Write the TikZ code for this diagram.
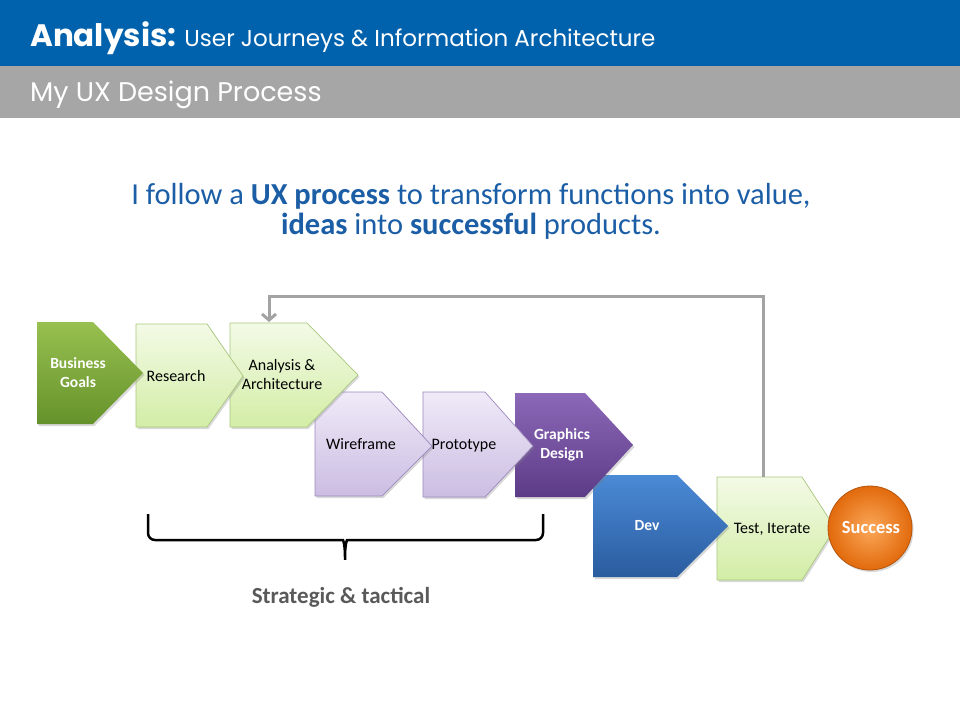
\documentclass[tikz,border=0pt]{standalone}
\usepackage{fontspec}
\setmainfont{Carlito}
\newfontfamily\headfont{Poppins}
\usetikzlibrary{arrows.meta,shadows}

\definecolor{headblue}{HTML}{0062AC}
\definecolor{headgray}{HTML}{A6A6A6}
\definecolor{introblue}{HTML}{1B5EA6}
\definecolor{lgtop}{HTML}{F3FAE6}
\definecolor{lgbot}{HTML}{D3EDA6}
\definecolor{lgline}{HTML}{A9C77E}
\definecolor{dgtop}{HTML}{98C050}
\definecolor{dgbot}{HTML}{65922B}
\definecolor{lvtop}{HTML}{F0EAF8}
\definecolor{lvbot}{HTML}{CBBDE2}
\definecolor{lvline}{HTML}{9C88BD}
\definecolor{pptop}{HTML}{8C69B8}
\definecolor{ppbot}{HTML}{5C3B87}
\definecolor{dvtop}{HTML}{4B8AD6}
\definecolor{dvbot}{HTML}{2A5C9F}
\definecolor{ortop}{HTML}{FBA85A}
\definecolor{orbot}{HTML}{E26A0C}
\definecolor{loopgray}{HTML}{A3A3A3}
\definecolor{notegray}{HTML}{595959}

\tikzset{
  shadowed/.style={drop shadow={shadow xshift=1.5pt,shadow yshift=-2pt,opacity=.3}},
  palestep/.style={shadowed,top color=lgtop,bottom color=lgbot,draw=lgline,line width=.7pt},
  goalstep/.style={shadowed,top color=dgtop,bottom color=dgbot},
  lavstep/.style={shadowed,top color=lvtop,bottom color=lvbot,draw=lvline,line width=.7pt},
  purplestep/.style={shadowed,top color=pptop,bottom color=ppbot},
  bluestep/.style={shadowed,top color=dvtop,bottom color=dvbot},
  steplabel/.style={font=\fontsize{16}{19}\selectfont,align=center},
  boldlabel/.style={steplabel,font=\fontsize{15.5}{19}\selectfont\bfseries,text=white},
}

\begin{document}
\begin{tikzpicture}[x=1pt,y=-1pt]
    \useasboundingbox (0,0) rectangle (960,720);
    % header bars
    \fill[headblue] (0,0) rectangle (960,66);
    \fill[headgray] (0,66) rectangle (960,118);
    \node[anchor=base west,text=white,inner sep=0] (title) at (30,46)
      {\headfont\fontsize{31}{36}\selectfont\bfseries Analysis:\mdseries\fontsize{23}{28}\selectfont{} User Journeys \& Information Architecture};
    \node[anchor=base west,text=white,inner sep=0] (subtitle) at (30,101)
      {\headfont\fontsize{27}{32}\selectfont My UX Design Process};
    \node[text=introblue,align=center,font=\fontsize{30.5}{30}\selectfont] (intro) at (471,211)
      {I follow a \textbf{UX process} to transform functions into value,\\ \textbf{ideas} into \textbf{successful} products.};

    % steps, back to front
    \shade[palestep] (717,477) -- (802,477) -- (835,528) -- (802,580) -- (717,580) -- cycle;
    \shade[shadowed,inner color=ortop,outer color=orbot,draw=orbot!80!black,line width=.8pt] (870,528) circle (42);
    \shade[bluestep] (593,475) -- (677,475) -- (728,526) -- (677,577) -- (593,577) -- cycle;
    \shade[purplestep] (515,393) -- (585,393) -- (633,445) -- (585,497) -- (515,497) -- cycle;
    \shade[lavstep] (423,392) -- (485,392) -- (533,446) -- (485,497) -- (423,497) -- cycle;
    \shade[lavstep] (315,392) -- (382,392) -- (432,446) -- (382,496) -- (315,496) -- cycle;
    \shade[palestep] (230,323) -- (307,323) -- (358,375) -- (307,427) -- (230,427) -- cycle;
    \shade[palestep] (136,324) -- (207,324) -- (243,376) -- (207,427) -- (136,427) -- cycle;
    \shade[goalstep] (37,322) -- (93,322) -- (143,373) -- (93,424) -- (37,424) -- cycle;

    % labels
    \node[boldlabel] (goals) at (78,373) {Business\\Goals};
    \node[steplabel] (research) at (176,376) {Research};
    \node[steplabel] (analysis) at (282,374) {Analysis \&\\Architecture};
    \node[steplabel] (wireframe) at (361,444) {Wireframe};
    \node[steplabel] (prototype) at (464,446) {Prototype};
    \node[boldlabel] (graphics) at (562,445) {Graphics\\Design};
    \node[boldlabel] (dev) at (647,526) {Dev};
    \node[steplabel] (test) at (772,529) {Test, Iterate};
    \node[boldlabel,font=\fontsize{18.5}{22}\selectfont\bfseries] (success) at (871,527) {Success};

    % iterate loop
    \coordinate (testtop) at (763,477);
    \coordinate (loopcorner) at (763,296);
    \coordinate (analysistop) at (269,322);
    \draw[loopgray,line width=3pt,-{Straight Barb[length=6pt,width=14pt]}]
      (testtop) -- (loopcorner) -| (analysistop);

    % brace under the first six steps
    \draw[line width=2.5pt,rounded corners=7pt] (148,514) -- (148,540) -- (336,540)
      .. controls (343,540) and (345,544) .. (345,564)
      .. controls (345,544) and (347,540) .. (354,540) -- (543,540) -- (543,514);
    \node[text=notegray,font=\fontsize{23}{26}\selectfont\bfseries] (phase) at (341,597) {Strategic \& tactical};
\end{tikzpicture}
\end{document}
